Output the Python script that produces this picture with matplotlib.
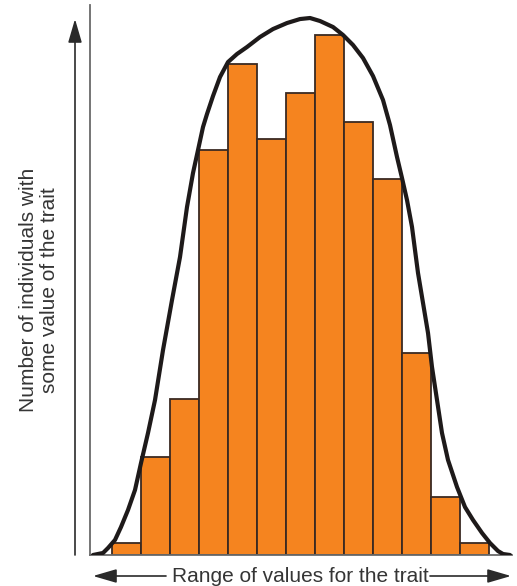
import matplotlib
matplotlib.use("Agg")
import matplotlib.pyplot as plt
from matplotlib.patches import FancyArrowPatch

# Histogram of trait values (13 classes) and the smooth distribution drawn over it
classes = list(range(13))
counts = [2, 17, 27, 70, 85, 72, 80, 90, 75, 65, 35, 10, 2]

curve_x = [-1.155, -0.810, -0.638, -0.397, -0.190, 0.052, 0.293, 0.500, 0.741, 0.983,
           1.259, 1.569, 1.845, 2.086, 2.293, 2.466, 2.638, 2.776, 2.983, 3.224,
           3.500, 3.810, 4.155, 4.603, 5.052, 5.534, 5.983, 6.328, 6.672, 7.121,
           7.466, 7.810, 8.155, 8.500, 8.845, 9.086, 9.328, 9.500, 9.672, 9.845,
           9.948, 10.052, 10.190, 10.397, 10.534, 10.707, 10.879, 11.086, 11.397,
           11.672, 11.948, 12.259, 12.534, 12.810, 12.983, 13.224]
curve_y = [0.0, 0.35, 1.21, 2.60, 4.84, 7.79, 11.25, 15.92, 21.11, 26.82,
           35.47, 44.12, 51.56, 60.21, 66.09, 70.07, 74.05, 76.30, 79.41, 82.70,
           85.29, 86.68, 87.89, 89.62, 91.00, 92.04, 92.73, 92.91, 92.39, 91.35,
           89.97, 88.24, 85.99, 82.87, 78.72, 74.39, 68.86, 65.22, 61.42, 56.75,
           52.77, 48.79, 44.64, 38.41, 32.53, 26.82, 21.11, 16.44, 11.76,
           8.30, 6.06, 3.81, 2.08, 0.69, 0.17, 0.0]

x_label = "Range of values for the trait"
y_label = "Number of individuals with\nsome value of the trait"

W, H = 517, 586
fig = plt.figure(figsize=(W / 100, H / 100), dpi=100)

def fx(px):
    return px / W

def fy(py):
    return 1 - py / H

ax = fig.add_axes([fx(90), fy(555), fx(512) - fx(90), fy(5) - fy(555)])
ax.bar(classes, counts, width=1.0, color="#F5841F", edgecolor="#3a2a22",
       linewidth=1.3, zorder=2)
ax.plot(curve_x, curve_y, color="#1e1a1a", linewidth=3.0,
        solid_capstyle="round", solid_joinstyle="round", zorder=3)

ax.set_xlim(-1.259, 13.293)
ax.set_ylim(0, 95.16)
ax.set_xticks([])
ax.set_yticks([])
for side in ("top", "right"):
    ax.spines[side].set_visible(False)
for side in ("left", "bottom"):
    ax.spines[side].set_color("#6a6a6a")
    ax.spines[side].set_linewidth(1.3)

font = "Liberation Sans"
txt_color = "#353535"
arrow_kw = dict(arrowstyle="-|>,head_length=1.2,head_width=0.35",
                color="#2a2a2a", lw=1.2, shrinkA=0, shrinkB=0,
                transform=fig.transFigure, mutation_scale=12)

# vertical arrow beside the y axis
fig.patches.append(FancyArrowPatch((fx(75), fy(555)), (fx(75), fy(19)), **arrow_kw))

# horizontal arrows on either side of the x label
fig.patches.append(FancyArrowPatch((fx(166), fy(576)), (fx(93), fy(576)), **arrow_kw))
fig.patches.append(FancyArrowPatch((fx(430), fy(576)), (fx(511), fy(576)), **arrow_kw))

fig.text(fx(300), fy(576), x_label, ha="center", va="center",
         fontsize=15, family=font, color=txt_color)
fig.text(fx(39), fy(290), y_label, ha="center", va="center", rotation=90,
         fontsize=15, family=font, color=txt_color,
         linespacing=1.1, multialignment="center")

fig.savefig("out.png", dpi=100, facecolor="white")
